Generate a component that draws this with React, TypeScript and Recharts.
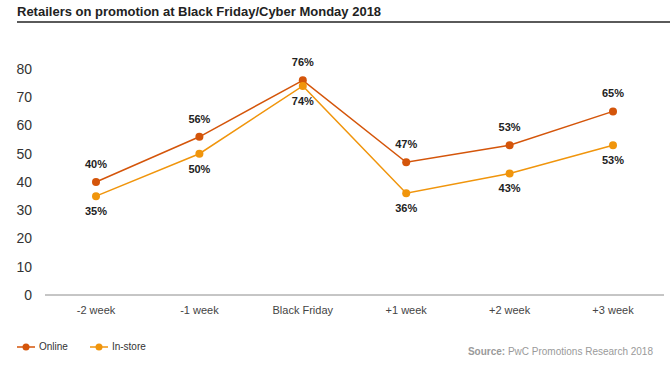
import React from "react";
import { LineChart, Line, XAxis, YAxis, LabelList } from "recharts";

const weeks = ["-2 week", "-1 week", "Black Friday", "+1 week", "+2 week", "+3 week"];
const online = [40, 56, 76, 47, 53, 65];
const inStore = [35, 50, 74, 36, 43, 53];
const yTicks = [0, 10, 20, 30, 40, 50, 60, 70, 80];

const ONLINE = "#d4550a";
const INSTORE = "#f0950c";
const FONT = "'Liberation Sans', Arial, Helvetica, sans-serif";

const data = weeks.map((w, i) => ({ week: w, online: online[i], inStore: inStore[i] }));

const pct = (v: any) => `${v}%`;

function LegendItem({ color, label }: { color: string; label: string }) {
  return (
    <div style={{ display: "flex", alignItems: "center", marginRight: 22 }}>
      <svg width={18} height={10} style={{ marginRight: 4 }}>
        <line x1={0} y1={5} x2={18} y2={5} stroke={color} strokeWidth={1.5} />
        <circle cx={9} cy={5} r={3.5} fill={color} />
      </svg>
      <span>{label}</span>
    </div>
  );
}

export default function App() {
  return (
    <div
      style={{
        position: "absolute",
        left: 0,
        top: 0,
        width: 670,
        height: 377,
        background: "#fff",
        fontFamily: FONT,
        color: "#222",
      }}
    >
      <div
        style={{
          position: "absolute",
          left: 17,
          top: 4,
          fontSize: 13,
          fontWeight: "bold",
          color: "#222",
        }}
      >
        Retailers on promotion at Black Friday/Cyber Monday 2018
      </div>
      <div
        style={{
          position: "absolute",
          left: 17,
          top: 21,
          width: 653,
          height: 2,
          background: "#5a5a5a",
        }}
      />
      <LineChart
        width={670}
        height={330}
        data={data}
        margin={{ top: 69, right: 6, bottom: 5, left: 0 }}
        style={{ position: "absolute", left: 0, top: 0 }}
      >
        <XAxis
          dataKey="week"
          axisLine={{ stroke: "#8c8c8c", strokeWidth: 1 }}
          tickLine={false}
          tickSize={0}
          tickMargin={11}
          height={30}
          interval={0}
          padding={{ left: 51, right: 51 }}
          tick={{ fontSize: 11, fill: "#444", fontFamily: FONT }}
        />
        <YAxis
          domain={[0, 80]}
          ticks={yTicks}
          axisLine={false}
          tickLine={false}
          tickSize={0}
          tickMargin={13}
          width={45}
          tick={{ fontSize: 14, fill: "#333", fontFamily: FONT }}
        />
        <Line
          dataKey="online"
          stroke={ONLINE}
          strokeWidth={1.5}
          dot={{ r: 4, fill: ONLINE, stroke: ONLINE, strokeWidth: 0 }}
          isAnimationActive={false}
        >
          <LabelList
            dataKey="online"
            position="top"
            offset={14}
            formatter={pct}
            style={{ fontSize: 11, fontWeight: "bold", fill: "#222", fontFamily: FONT }}
          />
        </Line>
        <Line
          dataKey="inStore"
          stroke={INSTORE}
          strokeWidth={1.5}
          dot={{ r: 4, fill: INSTORE, stroke: INSTORE, strokeWidth: 0 }}
          isAnimationActive={false}
        >
          <LabelList
            dataKey="inStore"
            position="bottom"
            offset={11}
            formatter={pct}
            style={{ fontSize: 11, fontWeight: "bold", fill: "#222", fontFamily: FONT }}
          />
        </Line>
      </LineChart>
      <div
        style={{
          position: "absolute",
          left: 17,
          top: 341,
          display: "flex",
          fontSize: 10,
          color: "#333",
        }}
      >
        <LegendItem color={ONLINE} label="Online" />
        <LegendItem color={INSTORE} label="In-store" />
      </div>
      <div
        style={{
          position: "absolute",
          right: 17,
          top: 346,
          fontSize: 10,
          color: "#9a9a9a",
        }}
      >
        <b>Source:</b> PwC Promotions Research 2018
      </div>
    </div>
  );
}
